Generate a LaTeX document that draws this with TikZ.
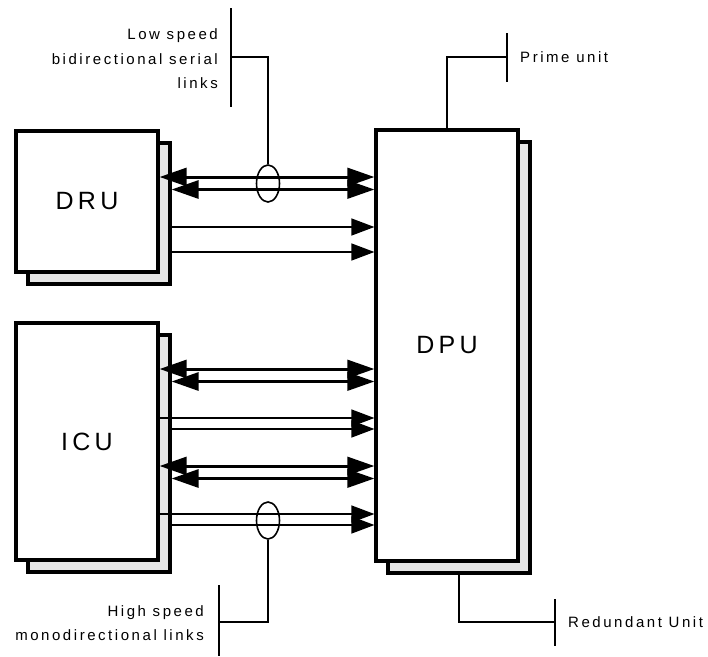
\documentclass[tikz,border=0pt]{standalone}
\usepackage{fontspec}
\setmainfont{Liberation Sans}
\newfontfamily\spacedfont[LetterSpace=17]{Liberation Sans}
\usepackage{xcolor}
\usetikzlibrary{arrows.meta, positioning, shapes.geometric}
\definecolor{shadowgray}{RGB}{230, 230, 230}

\begin{document}
\begin{tikzpicture}[x=1pt, y=-1pt,
    unitbox/.style={rectangle, draw, line width=3.2pt, fill=white, minimum width=142pt, minimum height=#1, inner sep=0pt, font=\spacedfont\fontsize{25}{30}\selectfont},
    backbox/.style={unitbox=#1, fill=shadowgray},
    bidi/.style={{Triangle[length=27pt, width=18pt]}-{Triangle[length=27pt, width=18pt]}, line width=3pt},
    mono/.style={-{Triangle[length=23pt, width=17pt]}, line width=1.3pt},
    lead/.style={line width=1.6pt},
    bundle/.style={ellipse, draw, line width=1.6pt, minimum width=23pt, minimum height=37pt, inner sep=0pt},
    lbl/.style={font=\spacedfont\fontsize{15}{24.5}\selectfont, inner sep=0pt}
]
\useasboundingbox (0,0) rectangle (708,656);

% Redundant units (behind)
\node[backbox=141pt] (dru2) at (99,213.5) {};
\node[backbox=237pt] (icu2) at (99,453.5) {};
\node[backbox=431pt] (dpu2) at (459,357.5) {};

% Prime units
\node[unitbox=141pt] (dru) at (87,201.5) {DRU};
\node[unitbox=237pt] (icu) at (87,441.5) {ICU};
\node[unitbox=431pt] (dpu) at (447,345.5) {DPU};

% Low speed bidirectional links
\foreach \y/\src in {177/dru, 369/icu, 466/icu} {
    \draw[bidi] (\src.east |- 0,\y) -- (dpu.west |- 0,\y);
    \draw[bidi] (\src2.east |- 0,\y+12.5) -- (dpu.west |- 0,\y+12.5);
}

% High speed monodirectional links
\draw[mono] (dru2.east |- 0,227) -- (dpu.west |- 0,227);
\draw[mono] (dru2.east |- 0,252) -- (dpu.west |- 0,252);
\foreach \y in {418, 514} {
    \draw[mono] (icu.east |- 0,\y) -- (dpu.west |- 0,\y);
    \draw[mono] (icu2.east |- 0,\y+11) -- (dpu.west |- 0,\y+11);
}

% Bundles
\node[bundle] (lowb) at (268,183.5) {};
\node[bundle] (highb) at (268,520.5) {};

% Callouts
\coordinate (lowbar) at (231,57);
\draw[lead] (lowbar |- 0,8) -- (lowbar |- 0,107);
\draw[lead] (lowb.north) |- (lowbar);
\node[lbl, left=13pt of lowbar, align=right, yshift=-2pt] (lowtxt) {Low speed\\bidirectional serial\\links};

\coordinate (highbar) at (219,622);
\draw[lead] (highbar |- 0,585) -- (highbar |- 0,656);
\draw[lead] (highb.south) |- (highbar);
\node[lbl, left=15pt of highbar, align=right, yshift=-1pt] (hightxt) {High speed\\monodirectional links};

\coordinate (primebar) at (507,57);
\draw[lead] (primebar |- 0,33) -- (primebar |- 0,82);
\draw[lead] (dpu.north) |- (primebar);
\node[lbl, right=13pt of primebar] (primetxt) {Prime unit};

\coordinate (redbar) at (555,622);
\draw[lead] (redbar |- 0,599) -- (redbar |- 0,646);
\draw[lead] (dpu2.south) |- (redbar);
\node[lbl, right=13pt of redbar] (redtxt) {Redundant Unit};

\end{tikzpicture}
\end{document}
